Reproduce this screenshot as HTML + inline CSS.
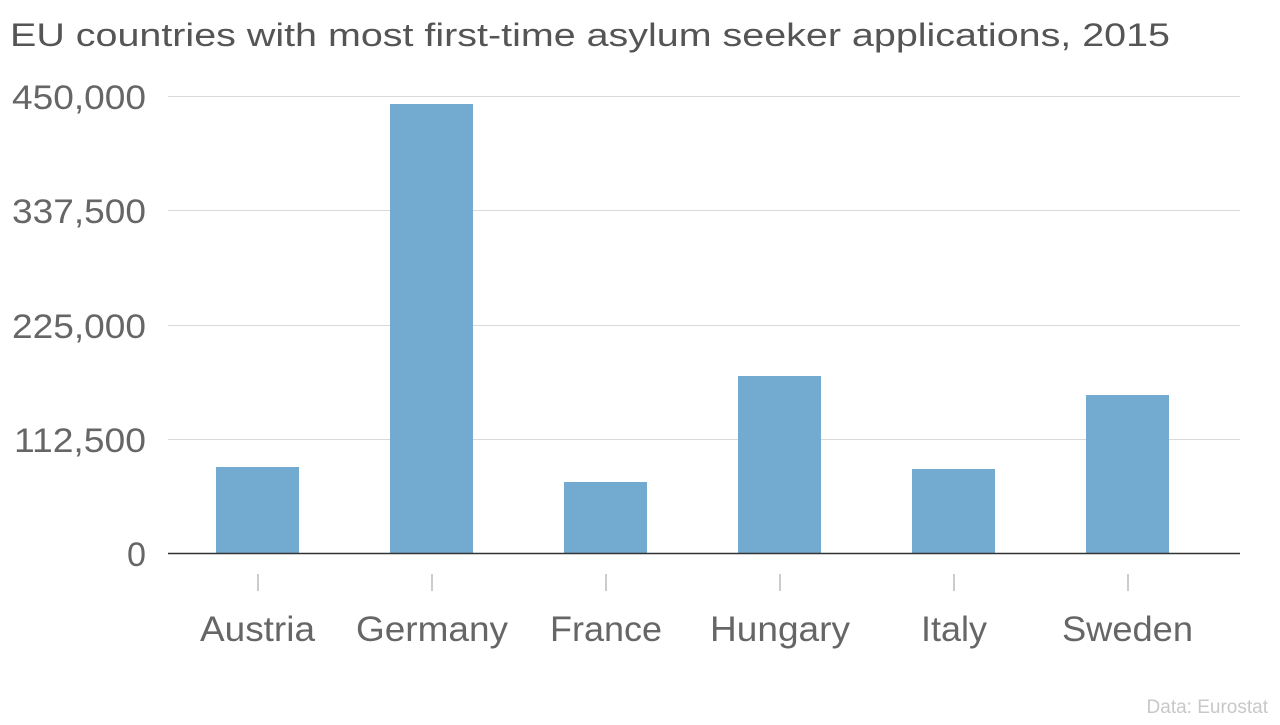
<!DOCTYPE html>
<html><head><meta charset="utf-8"><style>
html,body{margin:0;padding:0;background:#fff;}
svg text{font-family:"Liberation Sans",sans-serif;}
</style></head><body>
<svg width="1280" height="720" xmlns="http://www.w3.org/2000/svg">
<text x="10" y="46" font-size="32" fill="#555" textLength="1160" lengthAdjust="spacingAndGlyphs">EU countries with most first-time asylum seeker applications, 2015</text>
<g stroke="#d9d9d9" stroke-width="1">
<line x1="168" x2="1240" y1="96.5" y2="96.5"/>
<line x1="168" x2="1240" y1="210.5" y2="210.5"/>
<line x1="168" x2="1240" y1="325.5" y2="325.5"/>
<line x1="168" x2="1240" y1="439.5" y2="439.5"/>
</g>
<g font-size="34" fill="#666">
<text x="12" y="109" textLength="134" lengthAdjust="spacingAndGlyphs">450,000</text>
<text x="12" y="223" textLength="134" lengthAdjust="spacingAndGlyphs">337,500</text>
<text x="12" y="338" textLength="134" lengthAdjust="spacingAndGlyphs">225,000</text>
<text x="14" y="452" textLength="132" lengthAdjust="spacingAndGlyphs">112,500</text>
<text x="127" y="566" textLength="19" lengthAdjust="spacingAndGlyphs">0</text>
</g>
<g fill="#72aad0">
<rect x="216" y="467" width="83" height="86"/>
<rect x="390" y="104" width="83" height="449"/>
<rect x="564" y="482" width="83" height="71"/>
<rect x="738" y="376" width="83" height="177"/>
<rect x="912" y="469" width="83" height="84"/>
<rect x="1086" y="395" width="83" height="158"/>
</g>
<line x1="168" x2="1240" y1="553.5" y2="553.5" stroke="#333" stroke-width="1.5"/>
<g stroke="#bbb" stroke-width="1.5">
<line x1="258" x2="258" y1="574" y2="591"/>
<line x1="432" x2="432" y1="574" y2="591"/>
<line x1="606" x2="606" y1="574" y2="591"/>
<line x1="780" x2="780" y1="574" y2="591"/>
<line x1="954" x2="954" y1="574" y2="591"/>
<line x1="1128" x2="1128" y1="574" y2="591"/>
</g>
<g font-size="35" fill="#666">
<text x="200" y="641" textLength="115" lengthAdjust="spacingAndGlyphs">Austria</text>
<text x="356" y="641" textLength="152" lengthAdjust="spacingAndGlyphs">Germany</text>
<text x="550" y="641" textLength="112" lengthAdjust="spacingAndGlyphs">France</text>
<text x="710" y="641" textLength="140" lengthAdjust="spacingAndGlyphs">Hungary</text>
<text x="921" y="641" textLength="66" lengthAdjust="spacingAndGlyphs">Italy</text>
<text x="1062" y="641" textLength="131" lengthAdjust="spacingAndGlyphs">Sweden</text>
</g>
<text x="1268" y="713" font-size="19" fill="#c8c8c8" text-anchor="end">Data: Eurostat</text>
</svg>
</body></html>
